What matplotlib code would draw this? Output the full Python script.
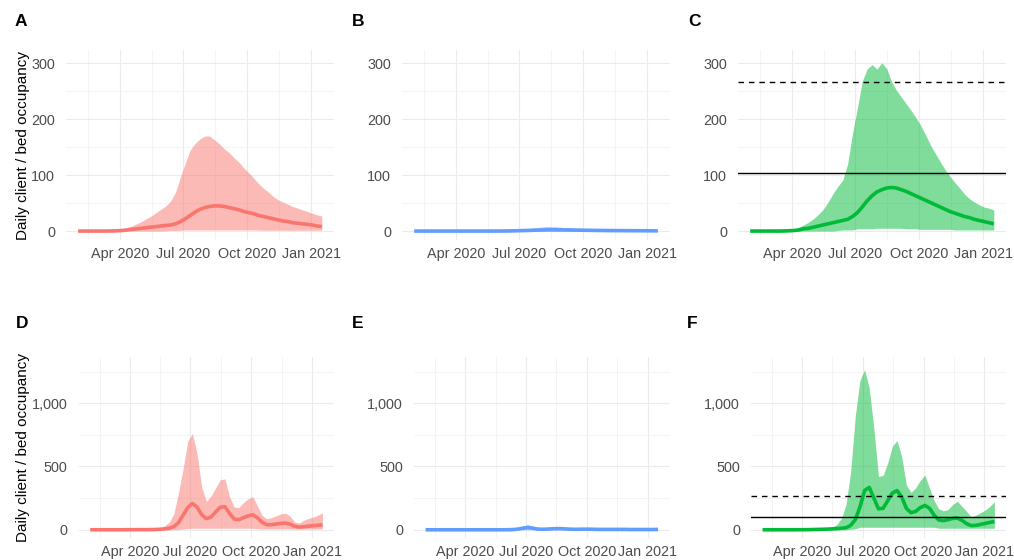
import numpy as np
import pandas as pd
import matplotlib
matplotlib.use("Agg")
from matplotlib import pyplot as plt
import matplotlib.dates as mdates
from matplotlib.ticker import FixedLocator, FuncFormatter

plt.rcParams['font.family'] = 'Liberation Sans'

# weekly dates, 1 Feb 2020 .. 16 Jan 2021
dates = pd.date_range('2020-02-01', periods=51, freq='7D')

# panel A (red)
a_upper = [0, 0, 0, 0, 0, 0, 0, 0.5, 1, 3, 6, 9, 13, 17, 22, 27, 33, 39, 45, 54, 70, 97, 122,
           145, 157, 165, 170, 170, 163, 156, 147, 140, 131, 123, 113, 104, 95, 85, 77, 70,
           62, 56, 52, 48, 44, 41, 38, 35, 32, 29, 27]
a_mean = [0, 0, 0, 0, 0, 0, 0, 0.2, 0.5, 1, 2, 3, 4, 5, 6, 7, 8, 9, 10, 11, 13, 17, 22, 28,
          34, 39, 42, 44, 45, 45, 44, 42, 40, 38, 35, 33, 31, 28, 26, 24, 22, 20, 18, 17, 15,
          14, 13, 12, 11, 9, 8]
a_lower = [0, 0, 0, 0, 0, 0, 0, 0, 0, 0, 0, 0, 0, 0, 0, 0, 0, 0, 0.5, 1, 1, 1.5, 2, 2, 2, 2,
           2, 2, 2, 2, 2, 2, 2, 2, 2, 2, 2, 2, 1.5, 1.5, 1.5, 1.5, 1.5, 1.5, 1.5, 1.5, 1.5,
           1.5, 1.5, 1.5, 1.5]

# panel B (blue)
b_upper = [0, 0, 0, 0, 0, 0, 0, 0, 0, 0, 0, 0, 0, 0, 0, 0, 0, 0, 0.5, 1, 1.5, 2, 3, 4, 5, 6,
           7, 8, 8, 8, 7, 6, 6, 5, 5, 4, 4, 4, 3, 3, 3, 3, 3, 2.5, 2.5, 2, 2, 2, 1.5, 1.5, 1]
b_mean = [0, 0, 0, 0, 0, 0, 0, 0, 0, 0, 0, 0, 0, 0, 0, 0, 0, 0, 0.1, 0.2, 0.3, 0.5, 0.8, 1,
          1.3, 1.6, 1.9, 2.1, 2.2, 2.2, 2.1, 2, 1.9, 1.7, 1.6, 1.5, 1.3, 1.2, 1.1, 1, 0.9,
          0.8, 0.8, 0.7, 0.7, 0.6, 0.6, 0.5, 0.5, 0.4, 0.4]
b_lower = [0] * 51

# panel C (green)
c_upper = [0, 0, 0, 0, 0, 0, 0, 0.5, 1, 3, 7, 11, 16, 22, 30, 39, 52, 67, 80, 91, 120, 175,
           220, 268, 290, 298, 290, 301, 291, 268, 252, 240, 228, 216, 203, 189, 172, 154,
           139, 124, 110, 98, 87, 77, 66, 58, 52, 47, 43, 41, 38]
c_mean = [0, 0, 0, 0, 0, 0, 0, 0.2, 0.5, 1, 2, 4, 5, 7, 9, 11, 13, 15, 17, 19, 21, 26, 33,
          43, 54, 63, 70, 74, 77, 78, 77, 74, 71, 67, 63, 59, 55, 51, 47, 43, 39, 35, 32, 29,
          26, 24, 21, 19, 17, 15, 13]
c_lower = [0, 0, 0, 0, 0, 0, 0, 0, 0, 0, 0, 0, 0, 0, 0, 0, 0, 0, 1, 2, 2, 2, 4, 4, 4, 4, 5,
           5, 5, 5, 5, 5, 4, 4, 4, 3, 3, 3, 3, 3, 3, 3, 2, 2, 2, 2, 2, 2, 2, 2, 2]

# panel D (red)
d_upper = [0, 0, 0, 0, 0, 0, 0.5, 1, 1, 2, 3, 4, 5, 6, 8, 12, 30, 60, 125, 290, 480, 700,
           760, 605, 340, 225, 265, 330, 395, 402, 263, 180, 175, 215, 245, 262, 190, 115,
           88, 95, 110, 125, 132, 110, 62, 53, 75, 90, 100, 115, 133]
d_mean = [0, 0, 0, 0, 0, 0, 0, 0, 0.5, 0.5, 1, 1, 1, 1.5, 2, 4, 7, 12, 25, 55, 115, 175, 208,
          180, 120, 88, 100, 140, 178, 182, 130, 85, 80, 95, 110, 118, 95, 60, 40, 40, 45,
          50, 53, 45, 28, 21, 24, 28, 32, 36, 39]
d_lower = [0, 0, 0, 0, 0, 0, 0, 0, 0, 0, 0, 0, 0, 0, 0, 0, 0, 0, 0, 2, 5, 10, 12, 12, 12, 12,
           12, 12, 12, 12, 12, 12, 12, 12, 12, 12, 8, 6, 6, 6, 6, 6, 6, 6, 6, 6, 6, 6, 6, 6, 6]

# panel E (blue)
e_upper = [0, 0, 0, 0, 0, 0, 0, 0, 0, 0, 0, 0, 0, 0, 0, 0, 0, 0, 1, 5, 15, 30, 40, 30, 14,
           10, 12, 16, 20, 19, 14, 10, 9, 10, 11, 11, 9, 7, 6, 6, 6, 6, 6, 6, 5, 5, 5, 5, 5,
           5, 5]
e_mean = [0, 0, 0, 0, 0, 0, 0, 0, 0, 0, 0, 0, 0, 0, 0, 0, 0, 0, 0.5, 2, 6, 13, 18, 13, 6, 4,
          5, 7, 9, 9, 7, 5, 4, 4, 5, 5, 4, 3, 3, 3, 3, 3, 3, 3, 2, 2, 2, 2, 2, 2, 3]
e_lower = [0] * 51

# panel F (green)
f_upper = [0, 0, 0, 0, 0, 0, 0.5, 1, 1.5, 2, 4, 6, 8, 11, 15, 22, 40, 90, 200, 460, 900,
           1180, 1265, 1120, 800, 420, 430, 530, 660, 705, 579, 355, 295, 330, 390, 432, 330,
           230, 165, 150, 160, 200, 226, 185, 145, 102, 115, 135, 155, 185, 222]
f_mean = [0, 0, 0, 0, 0, 0, 0, 0, 0.5, 0.5, 1, 2, 3, 4, 5, 7, 9, 12, 16, 35, 80, 180, 310,
          335, 250, 165, 170, 230, 290, 310, 260, 170, 135, 145, 175, 192, 170, 115, 78, 72,
          80, 90, 92, 75, 48, 33, 35, 42, 50, 58, 65]
f_lower = [0, 0, 0, 0, 0, 0, 0, 0, 0, 0, 0, 0, 0, 0, 0, 0, 0, 0, 0, 3, 8, 20, 20, 20, 20, 20,
           20, 20, 20, 20, 20, 20, 20, 20, 20, 20, 20, 20, 12, 12, 12, 12, 12, 12, 12, 12, 12,
           12, 12, 12, 12]

capacity = 104      # solid line
surge = 266         # dashed line

RED, BLUE, GREEN = '#F8766D', '#619CFF', '#00BA38'

W, H = 1014, 560
fig = plt.figure(figsize=(W / 100, H / 100), dpi=100)


def add_panel(left, right, top, bottom):
    return fig.add_axes([left / W, 1 - bottom / H, (right - left) / W, (bottom - top) / H])


xnum = mdates.date2num(dates)
pad = 17.5
major_dates = mdates.date2num(pd.to_datetime(['2020-01-01', '2020-04-01', '2020-07-01',
                                              '2020-10-01', '2021-01-01']))
minor_dates = (major_dates[:-1] + major_dates[1:]) / 2


def style(ax, top_row):
    ax.set_xlim(xnum[0] - pad, xnum[-1] + pad)
    if top_row:
        ax.set_ylim(-16, 324)
        ax.yaxis.set_major_locator(FixedLocator([0, 100, 200, 300]))
        ax.yaxis.set_minor_locator(FixedLocator([50, 150, 250]))
    else:
        ax.set_ylim(-65, 1365)
        ax.yaxis.set_major_locator(FixedLocator([0, 500, 1000]))
        ax.yaxis.set_minor_locator(FixedLocator([250, 750, 1250]))
    ax.yaxis.set_major_formatter(FuncFormatter(lambda v, p: f'{v:,.0f}'))
    ax.xaxis.set_major_locator(FixedLocator(major_dates))
    ax.xaxis.set_minor_locator(FixedLocator(minor_dates))
    ax.xaxis.set_major_formatter(mdates.DateFormatter('%b %Y'))
    ax.grid(which='major', color='#EBEBEB', lw=0.8)
    ax.grid(which='minor', color='#F3F3F3', lw=0.6)
    ax.set_axisbelow(True)
    for s in ax.spines.values():
        s.set_visible(False)
    ax.tick_params(which='both', length=0, labelsize=10.4, labelcolor='#4D4D4D')
    ax.tick_params(axis='y', pad=8)
    ax.tick_params(axis='x', pad=5)


def draw(ax, lower, mean, upper, color, lines=False):
    ax.fill_between(dates, lower, upper, color=color, alpha=0.5, lw=0)
    ax.plot(dates, mean, color=color, lw=2.6, solid_capstyle='butt')
    if lines:
        ax.axhline(capacity, color='black', lw=1.0)
        ax.axhline(surge, color='black', lw=1.0, ls=(0, (4, 3.5)))


axA = add_panel(66, 334, 50, 240)
axB = add_panel(402, 670, 50, 240)
axC = add_panel(738, 1006, 50, 240)
axD = add_panel(78.6, 334, 357, 538)
axE = add_panel(414, 669.6, 357, 538)
axF = add_panel(751, 1006, 357, 538)

for ax in (axA, axB, axC):
    style(ax, True)
for ax in (axD, axE, axF):
    style(ax, False)

draw(axA, a_lower, a_mean, a_upper, RED)
draw(axB, b_lower, b_mean, b_upper, BLUE)
draw(axC, c_lower, c_mean, c_upper, GREEN, lines=True)
draw(axD, d_lower, d_mean, d_upper, RED)
draw(axE, e_lower, e_mean, e_upper, BLUE)
draw(axF, f_lower, f_mean, f_upper, GREEN, lines=True)

# panel letters
for label, x, y in [('A', 15, 22), ('B', 352, 22), ('C', 688, 22),
                    ('D', 16, 324), ('E', 352, 324), ('F', 687, 324)]:
    fig.text(x / W, 1 - y / H, label, fontsize=12.5, fontweight='bold', ha='left', va='center')

for y in (145, 448):
    fig.text(23 / W, 1 - y / H, 'Daily client / bed occupancy', rotation=90,
             fontsize=11, ha='center', va='center')

fig.savefig('out.png', dpi=100)
